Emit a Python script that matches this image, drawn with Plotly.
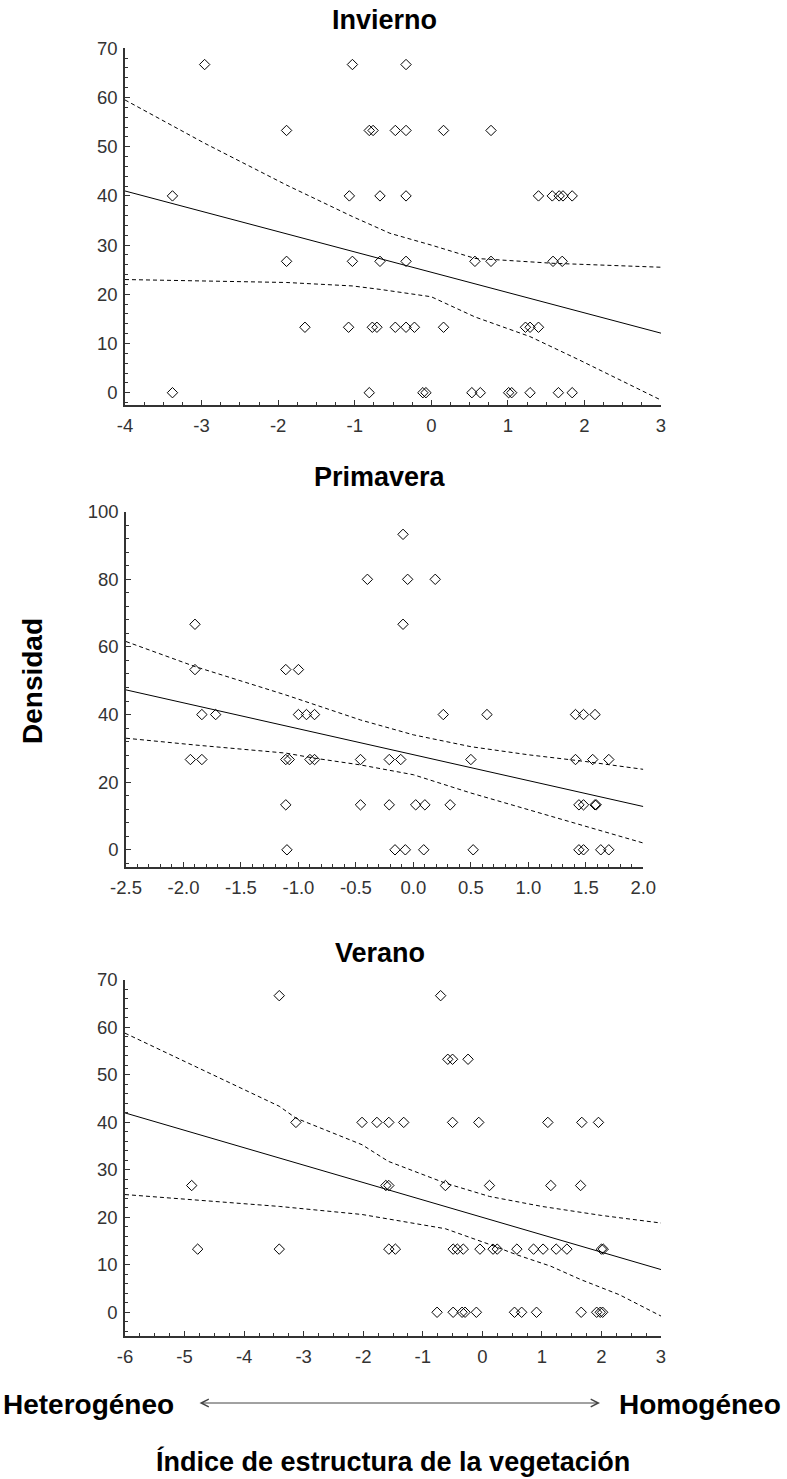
import plotly.graph_objects as go

W, H = 787, 1479

# ---------------- data ----------------
inv_x = [-2.96, -1.03, -0.33,
         -1.89, -0.81, -0.76, -0.47, -0.33, 0.16, 0.78,
         -3.38, -1.07, -0.67, -0.33, 1.40, 1.58, 1.67, 1.72, 1.84,
         -1.89, -1.03, -0.67, -0.33, 0.57, 0.78, 1.59, 1.71,
         -1.65, -1.08, -0.77, -0.71, -0.47, -0.33, -0.22, 0.16, 1.23, 1.29, 1.40,
         -3.38, -0.81, -0.11, -0.07, 0.53, 0.64, 1.01, 1.05, 1.29, 1.66, 1.84]
inv_y = [66.7] * 3 + [53.3] * 7 + [40] * 9 + [26.7] * 8 + [13.3] * 11 + [0] * 11

pri_x = [-0.09,
         -0.40, -0.05, 0.19,
         -1.90, -0.09,
         -1.90, -1.11, -1.00,
         -1.84, -1.72, -1.00, -0.93, -0.86, 0.26, 0.64, 1.41, 1.48, 1.58,
         -1.94, -1.84, -1.11, -1.08, -0.90, -0.86, -0.46, -0.21, -0.11, 0.50, 1.41, 1.56, 1.70,
         -1.11, -0.46, -0.21, 0.02, 0.10, 0.32, 1.44, 1.48, 1.58, 1.59,
         -1.10, -0.16, -0.07, 0.09, 0.52, 1.44, 1.48, 1.63, 1.70]
pri_y = [93.3] + [80] * 3 + [66.7] * 2 + [53.3] * 3 + [40] * 10 + [26.7] * 13 + [13.3] * 10 + [0] * 9

ver_x = [-3.41, -0.70,
         -0.58, -0.50, -0.24,
         -3.13, -2.02, -1.77, -1.57, -1.32, -0.50, -0.06, 1.10, 1.67, 1.95,
         -4.88, -1.62, -1.57, -0.62, 0.12, 1.15, 1.65,
         -4.78, -3.41, -1.57, -1.46, -0.49, -0.42, -0.32, -0.04, 0.18, 0.25, 0.58, 0.86, 1.02, 1.24, 1.42, 2.00, 2.03,
         -0.76, -0.49, -0.34, -0.29, -0.10, 0.54, 0.66, 0.91, 1.66, 1.92, 1.98, 2.02]
ver_y = [66.7] * 2 + [53.3] * 3 + [40] * 10 + [26.7] * 7 + [13.3] * 17 + [0] * 12

# regression lines and confidence bands
inv_fit_x = [-4, 3]
inv_fit_y = [41.0, 12.1]
inv_up_x = [-4, -2.96, -1.89, -1.03, -0.54, 0, 0.57, 1.59, 3]
inv_up_y = [59.5, 50.7, 42.2, 35.8, 32.4, 30.0, 27.3, 26.3, 25.5]
inv_lo_x = [-4, -1.89, -1.03, -0.67, 0, 0.57, 1.29, 1.94, 3]
inv_lo_y = [23.0, 22.4, 21.7, 21.0, 19.5, 15.4, 11.4, 6.6, -1.5]

pri_fit_x = [-2.5, 2.0]
pri_fit_y = [47.3, 12.8]
pri_up_x = [-2.5, -1.9, -1.11, -0.86, -0.46, 0, 0.5, 1.0, 1.5, 2.0]
pri_up_y = [61.6, 54.2, 45.8, 42.9, 38.4, 34.0, 30.5, 28.1, 26.1, 23.8]
pri_lo_x = [-2.5, -1.9, -1.11, -0.86, -0.46, 0, 0.5, 1.0, 1.5, 2.0]
pri_lo_y = [33.0, 31.0, 28.6, 27.1, 25.1, 22.2, 16.8, 11.8, 6.9, 2.0]

ver_fit_x = [-6, 3]
ver_fit_y = [42.0, 9.0]
ver_up_x = [-6, -4.88, -3.41, -3.13, -2.02, -1.58, -0.62, 0.12, 1.0, 2.0, 3.0]
ver_up_y = [58.8, 52.1, 43.4, 40.9, 35.3, 31.8, 27.2, 24.4, 22.3, 20.4, 18.8]
ver_lo_x = [-6, -4.88, -3.41, -2.02, -1.58, -0.62, 0.12, 0.58, 1.15, 1.65, 2.3, 3.0]
ver_lo_y = [24.8, 23.7, 22.3, 20.6, 19.7, 17.6, 14.3, 12.1, 9.7, 6.9, 3.7, -0.8]

# tick values / labels
inv_xticks = [-4, -3, -2, -1, 0, 1, 2, 3]
inv_xtext = ["-4", "-3", "-2", "-1", "0", "1", "2", "3"]
inv_yticks = [0, 10, 20, 30, 40, 50, 60, 70]
pri_xticks = [-2.5, -2.0, -1.5, -1.0, -0.5, 0.0, 0.5, 1.0, 1.5, 2.0]
pri_xtext = ["-2.5", "-2.0", "-1.5", "-1.0", "-0.5", "0.0", "0.5", "1.0", "1.5", "2.0"]
pri_yticks = [0, 20, 40, 60, 80, 100]
ver_xticks = [-6, -5, -4, -3, -2, -1, 0, 1, 2, 3]
ver_xtext = ["-6", "-5", "-4", "-3", "-2", "-1", "0", "1", "2", "3"]
ver_yticks = [0, 10, 20, 30, 40, 50, 60, 70]

titles = ["Invierno", "Primavera", "Verano"]
y_label = "Densidad"
x_label = "Índice de estructura de la vegetación"
left_word = "Heterogéneo"
right_word = "Homogéneo"

# ---------------- figure ----------------
fig = go.Figure()

panels = [
    ("x", "y", inv_x, inv_y, inv_fit_x, inv_fit_y, inv_up_x, inv_up_y, inv_lo_x, inv_lo_y),
    ("x2", "y2", pri_x, pri_y, pri_fit_x, pri_fit_y, pri_up_x, pri_up_y, pri_lo_x, pri_lo_y),
    ("x3", "y3", ver_x, ver_y, ver_fit_x, ver_fit_y, ver_up_x, ver_up_y, ver_lo_x, ver_lo_y),
]

for xa, ya, px, py, fx, fy, ux, uy, lx, ly in panels:
    fig.add_trace(go.Scatter(x=fx, y=fy, mode="lines", xaxis=xa, yaxis=ya,
                             line=dict(color="black", width=1), showlegend=False,
                             hoverinfo="skip"))
    for bx, by in ((ux, uy), (lx, ly)):
        fig.add_trace(go.Scatter(x=bx, y=by, mode="lines", xaxis=xa, yaxis=ya,
                                 line=dict(color="black", width=1, dash="4px,3px"),
                                 showlegend=False, hoverinfo="skip"))
    fig.add_trace(go.Scatter(x=px, y=py, mode="markers", xaxis=xa, yaxis=ya,
                             marker=dict(symbol="diamond-open", size=8,
                                         color="black", line=dict(width=1, color="black")),
                             showlegend=False))

def px_x(p):
    return p / W

def px_y(p):
    return 1 - p / H

tickfont = dict(family="Liberation Sans, Arial, sans-serif", size=18.5, color="#333")

def axis(dom, rng, tickvals, ticktext, minor_dtick, anchor, standoff):
    return dict(domain=dom, range=rng, anchor=anchor, showline=True, linecolor="#333",
                linewidth=1.5, ticks="inside", ticklen=5, tickwidth=1, tickcolor="#333",
                tickmode="array", tickvals=tickvals, ticktext=ticktext,
                showgrid=False, zeroline=False,
                tickfont=tickfont, automargin=False, ticklabelstandoff=standoff,
                minor=dict(tickmode="linear", tick0=0, dtick=minor_dtick, ticks="inside",
                           ticklen=3, tickcolor="#333", showgrid=False))

fig.update_layout(
    width=W, height=H,
    margin=dict(l=0, r=0, t=0, b=0, pad=0),
    template="none",
    paper_bgcolor="white", plot_bgcolor="white",
    showlegend=False,
    xaxis=axis([px_x(125), px_x(661)], [-4, 3], inv_xticks, inv_xtext, 0.25, "y", 3),
    yaxis=axis([px_y(405), px_y(48.3)], [-2.5, 70], inv_yticks,
               [str(v) for v in inv_yticks], 2, "x", 2),
    xaxis2=axis([px_x(126), px_x(643.3)], [-2.5, 2.0], pri_xticks, pri_xtext, 0.1, "y2", 3),
    yaxis2=axis([px_y(866.7), px_y(511.7)], [-5, 100], pri_yticks,
                [str(v) for v in pri_yticks], 4, "x2", 2),
    xaxis3=axis([px_x(125), px_x(661)], [-6, 3], ver_xticks, ver_xtext, 0.25, "y3", 3),
    yaxis3=axis([px_y(1336), px_y(980)], [-5, 70], ver_yticks,
                [str(v) for v in ver_yticks], 2, "x3", 2),
)

bold = dict(family="Liberation Sans, Arial, sans-serif", size=27, color="black")
bold28 = dict(family="Liberation Sans, Arial, sans-serif", size=28, color="black")

ann = [
    dict(text="<b>%s</b>" % titles[0], x=px_x(384), y=px_y(20), font=bold),
    dict(text="<b>%s</b>" % titles[1], x=px_x(380), y=px_y(477), font=bold),
    dict(text="<b>%s</b>" % titles[2], x=px_x(380), y=px_y(953), font=bold),
    dict(text="<b>%s</b>" % x_label, x=px_x(393), y=px_y(1461), font=bold),
]
for a in ann:
    fig.add_annotation(xref="paper", yref="paper", showarrow=False,
                       xanchor="center", yanchor="middle", **a)

fig.add_annotation(text="<b>%s</b>" % y_label, xref="paper", yref="paper",
                   x=px_x(32), y=px_y(681), textangle=-90, showarrow=False,
                   font=bold28, xanchor="center", yanchor="middle")
fig.add_annotation(text="<b>%s</b>" % left_word, xref="paper", yref="paper",
                   x=px_x(1), y=px_y(1404), showarrow=False, font=bold28,
                   xanchor="left", yanchor="middle")
fig.add_annotation(text="<b>%s</b>" % right_word, xref="paper", yref="paper",
                   x=px_x(783), y=px_y(1404), showarrow=False, font=bold28,
                   xanchor="right", yanchor="middle")
# double-headed arrow
fig.add_annotation(text="", xref="paper", yref="paper", x=px_x(600), y=px_y(1403),
                   ax=-402, ay=0, showarrow=True, arrowhead=5, startarrowhead=5,
                   arrowside="end+start", arrowsize=1.5, startarrowsize=1.5,
                   arrowwidth=1, arrowcolor="#444")

fig.write_html("out.html")
